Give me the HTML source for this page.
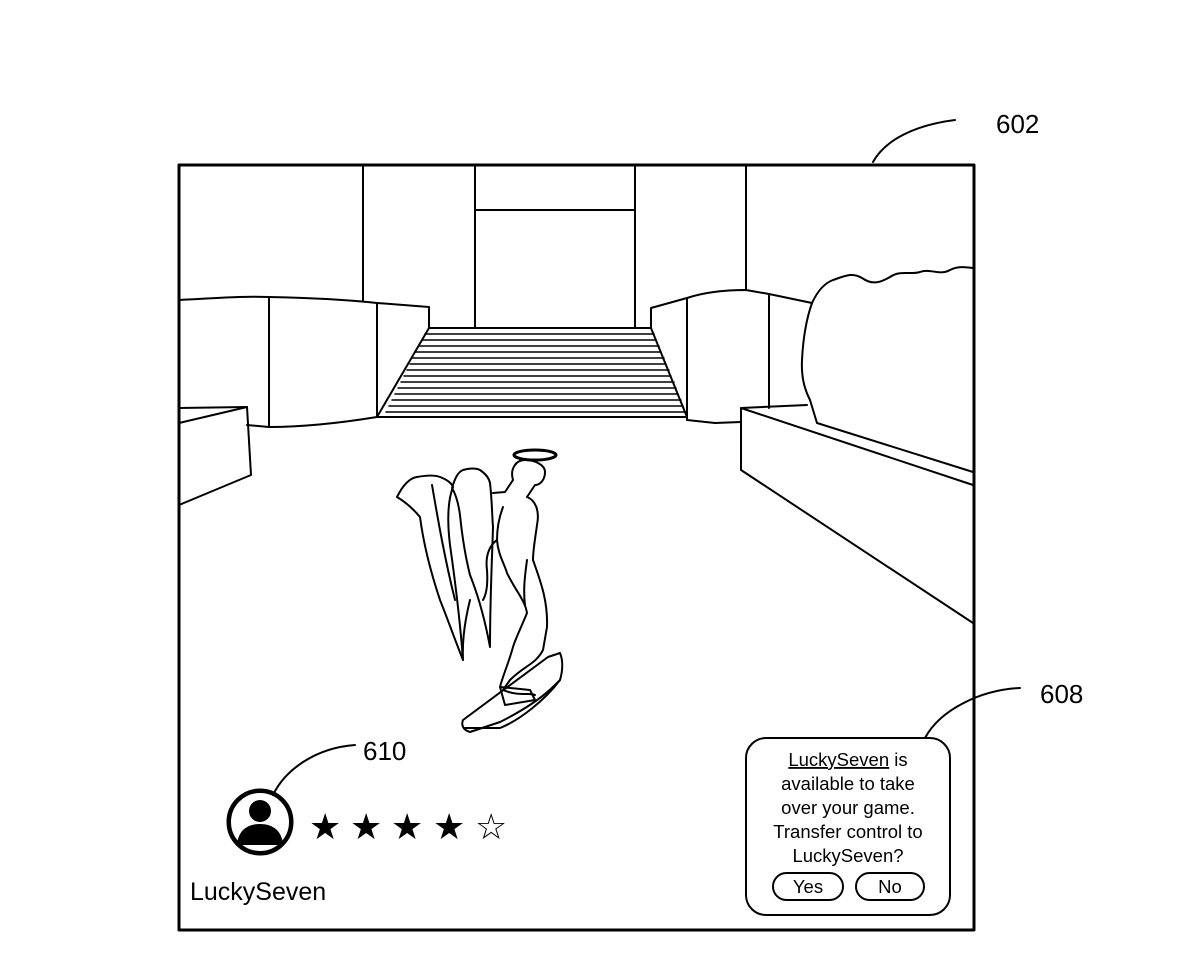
<!DOCTYPE html>
<html><head><meta charset="utf-8"><style>
html,body{margin:0;padding:0;background:#fff;}
svg{display:block}
text{font-family:"Liberation Sans",Arial,sans-serif;fill:#000}
</style></head><body>
<svg width="1200" height="979" viewBox="0 0 1200 979" xmlns="http://www.w3.org/2000/svg">
<g fill="none" stroke="#000" stroke-width="2" stroke-linejoin="round" stroke-linecap="round">
<path d="M873 162 C885 140,915 125,955 120"/>
<path d="M925 738 C940 710,980 690,1020 688"/>
<path d="M273 795 C285 770,315 748,355 745"/>
<rect x="179" y="165" width="795" height="765" stroke-width="3"/>
<line x1="363" y1="165" x2="363" y2="300"/>
<line x1="475" y1="165" x2="475" y2="328"/>
<line x1="635" y1="165" x2="635" y2="328"/>
<line x1="746" y1="165" x2="746" y2="290"/>
<line x1="475" y1="210" x2="635" y2="210"/>
<path d="M179 300 C220 298,240 296,269 297 C320 298,350 300,377 303 L429 307 L429 328"/>
<line x1="269" y1="297" x2="269" y2="427"/>
<line x1="377" y1="303" x2="377" y2="417"/>
<path d="M247 425 L269 427 C300 427,340 423,377 417"/>
<path d="M429 328 L651 328 L687 417 L377 417 Z"/>
<g stroke-width="1.5">
<line x1="425" y1="334" x2="654" y2="334"/><line x1="422" y1="340" x2="656" y2="340"/>
<line x1="419" y1="346" x2="659" y2="346"/><line x1="416" y1="352" x2="661" y2="352"/>
<line x1="413" y1="358" x2="664" y2="358"/><line x1="410" y1="364" x2="666" y2="364"/>
<line x1="407" y1="370" x2="669" y2="370"/><line x1="404" y1="376" x2="671" y2="376"/>
<line x1="401" y1="382" x2="674" y2="382"/><line x1="398" y1="388" x2="676" y2="388"/>
<line x1="395" y1="394" x2="678" y2="394"/><line x1="392" y1="400" x2="681" y2="400"/>
<line x1="389" y1="406" x2="683" y2="406"/><line x1="386" y1="412" x2="685" y2="412"/>
</g>
<path d="M179 408 L247 407 L251 475 L179 505"/>
<line x1="179" y1="423" x2="247" y2="407"/>
<path d="M651 328 L651 308 L687 298 C705 292,725 290,746 290 L769 294 L812 303"/>
<line x1="687" y1="298" x2="687" y2="420"/>
<line x1="769" y1="294" x2="769" y2="408"/>
<path d="M687 420 L715 423 L741 422"/>
<path d="M812 303 C806 320,803 340,802 360 C801 380,806 392,810 400 L817 423 M812 303 C818 290,825 283,833 280 C845 276,852 272,862 278 C872 285,880 283,890 277 C900 270,910 275,920 272 C930 268,940 276,950 270 C958 266,965 267,973 268"/>
<path d="M741 408 L807 405 M741 408 L973 485 M817 423 L973 472 M741 408 L741 470 L973 623"/>
<ellipse cx="535" cy="455" rx="21" ry="5" stroke-width="3"/>
<path d="M513 480 C510 470,515 460,525 460 C535 460,545 465,545 472 C545 480,540 485,535 485 L527 497 C535 500,540 510,537 525 C535 540,533 550,533 560 C540 580,548 600,547 627 L543 650 C535 665,525 665,510 680 L503 690 C520 697,530 692,535 695"/>
<path d="M513 480 L505 492 L493 493 M503 507 C498 520,497 530,497 540 C498 555,505 565,507 573 C515 590,525 600,527 613 C520 630,515 640,513 647 C508 665,503 675,500 687"/>
<path d="M497 540 C490 545,485 555,487 570 C488 585,486 595,483 600 M527 560 C525 575,523 590,525 605"/>
<path d="M397 497 C403 485,410 478,417 477 C428 475,435 475,440 477 C448 480,452 484,453 487 C448 500,447 520,450 545 C455 580,460 620,463 660 C455 640,448 620,440 600 C430 570,423 540,420 517 C410 505,402 500,397 497 Z"/>
<path d="M432 485 C438 520,445 560,455 600"/>
<path d="M452 488 C455 478,458 472,463 470 C470 468,476 468,480 470 C486 474,489 478,490 483 C492 500,492 515,493 527 C492 560,490 600,490 647 C485 620,478 595,470 575 C465 555,462 535,460 515 C458 500,455 493,452 488 Z"/>
<path d="M463 660 C462 640,465 620,470 600"/>
<path d="M463 720 L548 657 L560 653 C563 660,563 670,560 680 L555 685 C540 700,520 712,500 722 L470 732 C463 730,461 725,463 720 Z"/>
<path d="M465 728 L500 728 C520 720,545 700,560 680"/>
<path d="M500 687 L530 690 L535 700 L505 705 Z"/>
<rect x="746" y="738" width="204" height="177" rx="20"/>
<rect x="773" y="873" width="70" height="27" rx="13.5"/>
<rect x="856" y="873" width="68" height="27" rx="13.5"/>
<circle cx="260" cy="822" r="32" stroke-width="3"/>
</g>
<circle cx="260" cy="811" r="11" fill="#000"/>
<path d="M237 845 C238 830,248 824,260 824 C272 824,282 830,283 845 Z" fill="#000"/>
<circle cx="260" cy="822" r="30" fill="none" stroke="#000" stroke-width="2"/>
<text x="996" y="133" font-size="26">602</text>
<text x="1040" y="703" font-size="26">608</text>
<text x="363" y="760" font-size="26">610</text>
<text x="190" y="900" font-size="25">LuckySeven</text>
<text x="309" y="839" font-size="36">★</text>
<text x="350" y="839" font-size="36">★</text>
<text x="391" y="839" font-size="36">★</text>
<text x="433" y="839" font-size="36">★</text>
<text x="475" y="839" font-size="36">☆</text>
<g font-size="18.5" text-anchor="middle">
<text x="848" y="766"><tspan text-decoration="underline">LuckySeven</tspan> is</text>
<text x="848" y="790">available to take</text>
<text x="848" y="814">over your game.</text>
<text x="848" y="838">Transfer control to</text>
<text x="848" y="862">LuckySeven?</text>
<text x="808" y="893">Yes</text>
<text x="890" y="893">No</text>
</g>
</svg>
</body></html>
